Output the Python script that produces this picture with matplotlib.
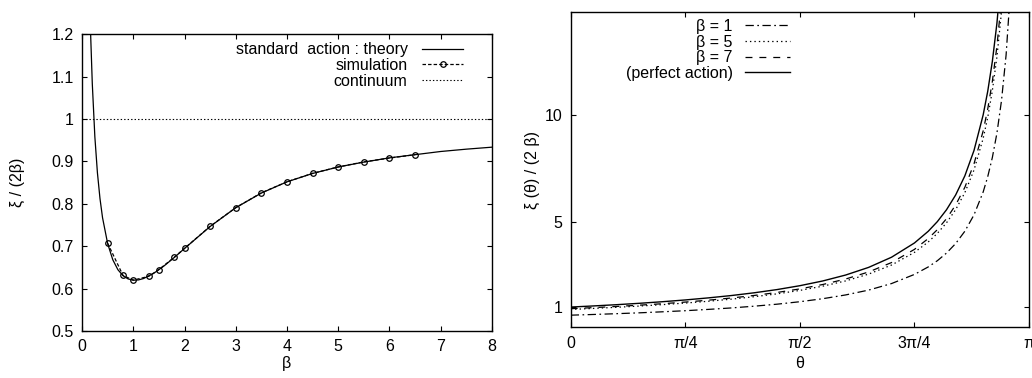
import matplotlib
matplotlib.use("Agg")
import matplotlib.pyplot as plt
from matplotlib.ticker import FuncFormatter
import numpy as np

plt.rcParams['font.family'] = ['Liberation Sans', 'DejaVu Sans']
plt.rcParams['font.size'] = 11.5
plt.rcParams['lines.scale_dashes'] = False

# left panel: xi/(2 beta) vs beta, standard action
beta_theory = [0.15, 0.17, 0.2, 0.25, 0.3, 0.35, 0.4, 0.5, 0.6, 0.7, 0.8, 0.9, 1.0, 1.1, 1.2,
               1.4, 1.6, 1.8, 2.0, 2.5, 3.0, 3.5, 4.0, 4.5, 5.0, 5.5, 6.0, 6.5, 7.0, 7.5, 8.0]
xi_theory = [1.2855, 1.1914, 1.0834, 0.9582, 0.8734, 0.8126, 0.7673, 0.7060, 0.6681, 0.6446, 0.6305,
             0.6228, 0.6199, 0.6205, 0.6238, 0.6362, 0.6535, 0.6735, 0.6947, 0.7466, 0.7909, 0.8255,
             0.8519, 0.8717, 0.8870, 0.8985, 0.9085, 0.9160, 0.9235, 0.9290, 0.9337]
beta_sim = [0.5, 0.8, 1.0, 1.3, 1.5, 1.8, 2.0, 2.5, 3.0, 3.5, 4.0, 4.5, 5.0, 5.5, 6.0, 6.5]
xi_sim = [0.707, 0.631, 0.620, 0.629, 0.645, 0.674, 0.695, 0.747, 0.791, 0.826, 0.852, 0.872,
          0.887, 0.899, 0.908, 0.916]
continuum = 1.0

# right panel: xi(theta)/(2 beta) vs theta (theta in units of pi)
theta_frac = [0, 0.05, 0.1, 0.15, 0.2, 0.25, 0.3, 0.35, 0.4, 0.45, 0.5, 0.55, 0.6, 0.65, 0.7,
              0.75, 0.78, 0.8, 0.82, 0.84, 0.86, 0.88, 0.9, 0.91, 0.92, 0.93, 0.94, 0.95, 0.96, 0.97]
xi_b1 = [0.620, 0.653, 0.690, 0.730, 0.778, 0.829, 0.890, 0.958, 1.040, 1.134, 1.250, 1.391, 1.568,
         1.794, 2.100, 2.528, 2.877, 3.170, 3.528, 3.975, 4.550, 5.317, 6.390, 7.111, 8.000, 9.143,
         10.67, 12.80, 16.00, 21.33]
xi_b5 = [0.887, 0.937, 0.989, 1.047, 1.113, 1.187, 1.271, 1.369, 1.483, 1.618, 1.780, 1.978, 2.225,
         2.543, 2.967, 3.560, 4.045, 4.450, 4.945, 5.563, 6.357, 7.417, 8.900, 9.889, 11.13, 12.71,
         14.83, 17.80, 22.25, 29.67]
xi_b7 = [0.925, 0.974, 1.028, 1.088, 1.156, 1.233, 1.321, 1.423, 1.542, 1.682, 1.850, 2.056, 2.313,
         2.643, 3.083, 3.700, 4.205, 4.625, 5.139, 5.781, 6.607, 7.708, 9.250, 10.28, 11.56, 13.21,
         15.42, 18.50, 23.13, 30.83]
xi_perfect = [1.000, 1.053, 1.111, 1.176, 1.250, 1.333, 1.429, 1.538, 1.667, 1.818, 2.000, 2.222,
              2.500, 2.857, 3.333, 4.000, 4.545, 5.000, 5.556, 6.250, 7.143, 8.333, 10.00, 11.11,
              12.50, 14.29, 16.67, 20.00, 25.00, 33.33]
theta_ticks = ['0', 'π/4', 'π/2', '3π/4', 'π']

fig = plt.figure(figsize=(10.32, 3.78), dpi=100)
ax1 = fig.add_axes([0.0795, 0.1243, 0.3972, 0.785])
ax2 = fig.add_axes([0.553, 0.134, 0.4441, 0.8334])

def style(ax):
    for s in ax.spines.values():
        s.set_linewidth(1.0)
    ax.tick_params(direction='in', top=True, right=True, length=3.5, width=0.8, pad=6,
                   labelsize=11.5)

# left
lw = 0.9
ax1.plot(beta_theory, xi_theory, color='black', lw=lw, label='standard  action : theory')
ax1.plot(beta_sim, xi_sim, color='black', lw=lw, ls=(0, (2.5, 1.5)), marker='o', ms=4,
         mfc='none', mec='black', mew=0.9, label='simulation')
ax1.axhline(continuum, color='black', lw=0.8, ls=(0, (1, 1.5)), label='continuum')
ax1.set_xlim(0, 8)
ax1.set_ylim(0.5, 1.2)
ax1.set_xticks(range(0, 9))
ax1.set_yticks(np.arange(0.5, 1.21, 0.1))
ax1.yaxis.set_major_formatter(FuncFormatter(lambda v, p: '%g' % round(v, 2)))
style(ax1)
ax1.set_xlabel('β')
ax1.set_ylabel('ξ / (2β)')
ax1.xaxis.set_label_coords(0.5, -0.085)
ax1.yaxis.set_label_coords(-0.14, 0.5)
ax1.legend(loc='upper right', bbox_to_anchor=(0.95, 1.0), frameon=False, markerfirst=False,
           borderpad=0, labelspacing=0.04, handlelength=2.6, handletextpad=0.9, numpoints=1)

# right
x = np.array(theta_frac) * np.pi
ax2.plot(x, xi_b1, color='black', lw=lw, ls=(0, (6, 2.5, 1.2, 2.5)), label='β = 1')
ax2.plot(x, xi_b5, color='black', lw=lw, ls=(0, (1, 2.2)), label='β = 5')
ax2.plot(x, xi_b7, color='black', lw=lw, ls=(0, (5, 5)), label='β = 7')
ax2.plot(x, xi_perfect, color='black', lw=1.0, label='(perfect action)')
ax2.set_xlim(0, np.pi)
ax2.set_ylim(0.05, 14.8)
ax2.set_xticks(np.arange(5) * np.pi / 4)
ax2.set_xticklabels(theta_ticks)
ax2.set_yticks([1, 5, 10])
style(ax2)
ax2.set_xlabel('θ')
ax2.set_ylabel('ξ (θ) / (2 β)')
ax2.xaxis.set_label_coords(0.5, -0.09)
ax2.yaxis.set_label_coords(-0.068, 0.5)
ax2.legend(loc='upper right', bbox_to_anchor=(0.496, 1.004), frameon=False, markerfirst=False,
           borderpad=0, labelspacing=0.04, handlelength=2.8, handletextpad=0.8)

fig.savefig('out.png', dpi=100)
